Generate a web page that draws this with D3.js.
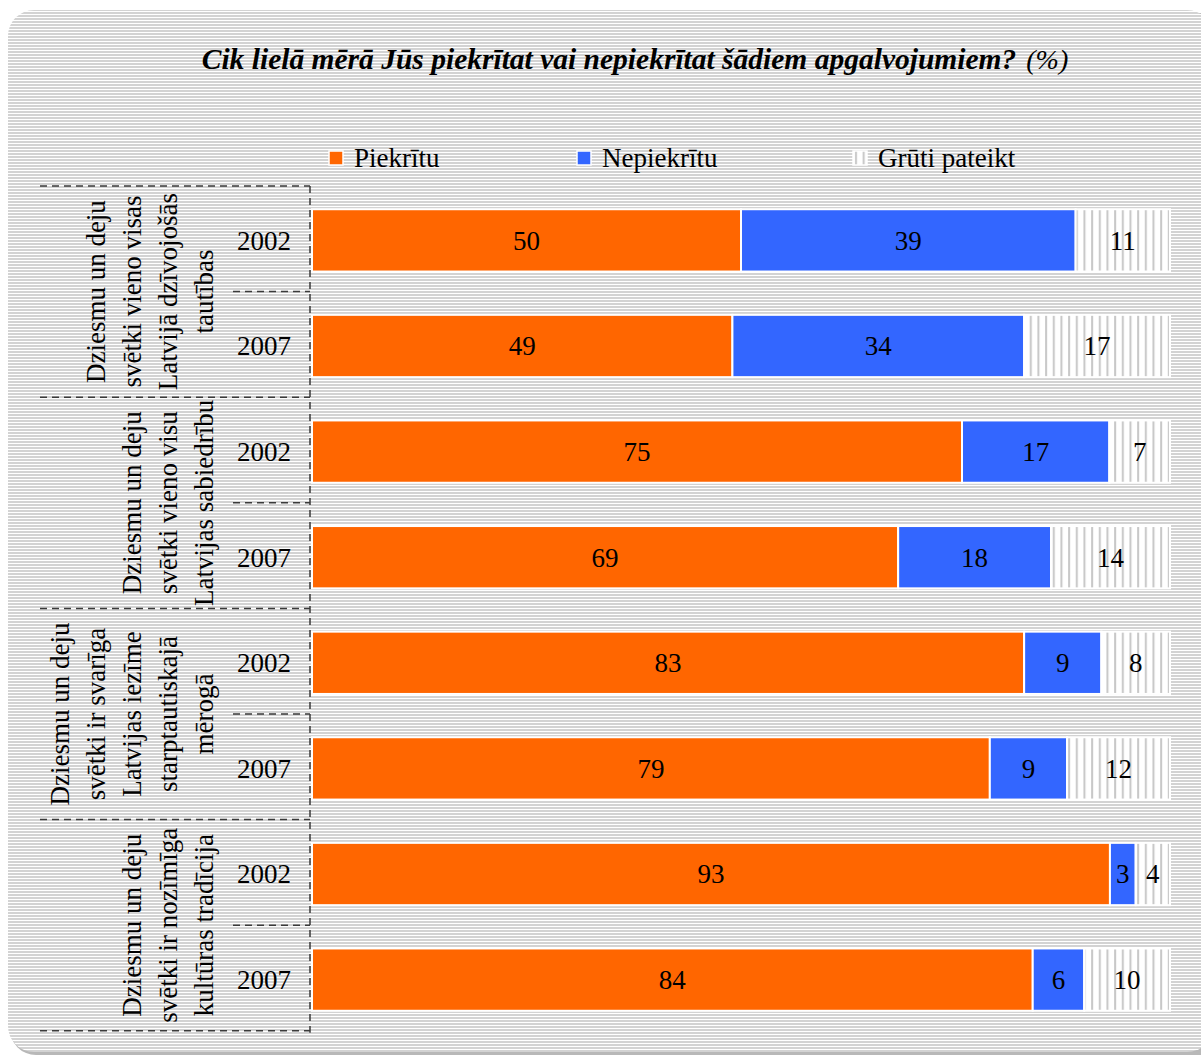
<!DOCTYPE html>
<html><head><meta charset="utf-8">
<script src="https://cdn.jsdelivr.net/npm/d3@7"></script>
<style>
html,body{margin:0;padding:0;background:#fff;}
svg{display:block;font-family:"Liberation Serif","Times New Roman",serif;}
</style></head>
<body>
<svg id="chart" width="1201" height="1057"></svg>
<script>
const title = "Cik lielā mērā Jūs piekrītat vai nepiekrītat šādiem apgalvojumiem?";
const titleUnit = "(%)";
const seriesNames = ["Piekrītu", "Nepiekrītu", "Grūti pateikt"];
const categoryLines = [
  ["Dziesmu un deju", "svētki vieno visas", "Latvijā dzīvojošās", "tautības"],
  ["Dziesmu un deju", "svētki vieno visu", "Latvijas sabiedrību"],
  ["Dziesmu un deju", "svētki ir svarīga", "Latvijas iezīme", "starptautiskajā", "mērogā"],
  ["Dziesmu un deju", "svētki ir nozīmīga", "kultūras tradīcija"]
];
const years = ["2002", "2007"];
const piekritu   = [50, 49, 75, 69, 83, 79, 93, 84];
const nepiekritu = [39, 34, 17, 18, 9, 9, 3, 6];
const gruti      = [11, 17, 7, 14, 8, 12, 4, 10];

const rows = [];
categoryLines.forEach((c, gi) => years.forEach((y, yi) => {
  const i = gi * years.length + yi;
  rows.push({id: i, group: gi, year: y, s0: piekritu[i], s1: nepiekritu[i], s2: gruti[i]});
}));

const FS = 27;
const svg = d3.select("#chart");
const defs = svg.append("defs");
const bg = defs.append("pattern").attr("id","bgStripes").attr("patternUnits","userSpaceOnUse")
  .attr("width",6).attr("height",3);
bg.append("rect").attr("width",6).attr("height",3).attr("fill","#ffffff");
bg.append("rect").attr("width",6).attr("height",2).attr("fill","#d3d3d3");
const vs = defs.append("pattern").attr("id","vStripes").attr("patternUnits","userSpaceOnUse")
  .attr("width",7.67).attr("height",10);
vs.append("rect").attr("width",7.67).attr("height",10).attr("fill","#ffffff");
vs.append("rect").attr("x",2).attr("width",2).attr("height",10).attr("fill","#c8c8c8");

const colors = ["#ff6600", "#3366ff", "url(#vStripes)"];

// panel
svg.append("rect").attr("x",10).attr("y",13).attr("width",1215).attr("height",1042)
  .attr("rx",26).attr("fill","#b8b8b8");
svg.append("rect").attr("x",8).attr("y",10).attr("width",1205).attr("height",1042)
  .attr("rx",26).attr("fill","url(#bgStripes)");

// title
const t = svg.append("text").attr("x", 635).attr("y", 69).attr("text-anchor","middle")
  .attr("font-size", 29.5).attr("font-style","italic");
t.append("tspan").attr("font-weight","bold").text(title);
t.append("tspan").attr("dx", 10).attr("font-size", 28).text(titleUnit);

// scales
const x = d3.scaleLinear().domain([0, 1]).range([312, 1170]);
const y = d3.scaleBand().domain(rows.map(d => d.id)).range([186, 1034])
  .paddingInner(0.41).paddingOuter(0.22);
const stack = d3.stack().keys(["s0","s1","s2"]).offset(d3.stackOffsetExpand);
const stacked = stack(rows);

const layer = svg.append("g").selectAll("g").data(stacked).join("g")
  .attr("fill", (d, i) => colors[i]);
layer.selectAll("rect").data(d => d).join("rect")
  .attr("x", d => x(d[0])).attr("width", d => x(d[1]) - x(d[0]))
  .attr("y", d => y(d.data.id)).attr("height", y.bandwidth())
  .attr("stroke","#ffffff").attr("stroke-width",2);
stacked.forEach((s) => {
  svg.append("g").selectAll("text").data(s).join("text")
    .attr("x", d => (x(d[0]) + x(d[1])) / 2)
    .attr("y", d => y(d.data.id) + y.bandwidth() / 2)
    .attr("dy","0.35em").attr("text-anchor","middle").attr("font-size",FS).attr("fill","#000")
    .text(d => d.data[s.key]);
});

// year labels
svg.append("g").selectAll("text").data(rows).join("text")
  .attr("x", 264).attr("y", d => y(d.id) + y.bandwidth() / 2).attr("dy","0.35em")
  .attr("text-anchor","middle").attr("font-size",FS).text(d => d.year);

// dashed structure
const step = y.step();
const top0 = 186;
const groupH = step * years.length;
const lines = svg.append("g").attr("stroke","#3a3a3a").attr("stroke-width",1.5)
  .attr("stroke-dasharray","7,5").attr("fill","none");
lines.append("line").attr("x1",310).attr("x2",310).attr("y1",top0).attr("y2",top0 + groupH * categoryLines.length + 2);
for (let g = 0; g <= categoryLines.length; g++) {
  lines.append("line").attr("x1",40).attr("x2",310).attr("y1",top0 + g*groupH).attr("y2",top0 + g*groupH);
}
for (let g = 0; g < categoryLines.length; g++) {
  lines.append("line").attr("x1",233).attr("x2",310).attr("y1",top0 + g*groupH + step).attr("y2",top0 + g*groupH + step);
}

// category labels (rotated)
categoryLines.forEach((ls, gi) => {
  const cy = top0 + gi * groupH + groupH / 2;
  const n = ls.length;
  ls.forEach((line, li) => {
    const cx = 204 - (n - 1 - li) * 36;
    svg.append("text").attr("transform", `translate(${cx},${cy}) rotate(-90)`)
      .attr("text-anchor","middle").attr("dy","0.35em").attr("font-size",FS).text(line);
  });
});

// legend
const legX = [329, 577, 853];
const lg = svg.append("g").selectAll("g").data(seriesNames).join("g")
  .attr("transform", (d, i) => `translate(${legX[i]},151)`);
lg.append("rect").attr("width",14).attr("height",14).attr("fill",(d,i)=>colors[i])
  .attr("stroke","#fff").attr("stroke-width",1.5);
lg.append("text").attr("x",25).attr("y",7).attr("dy","0.35em").attr("font-size",FS).text(d => d);
</script>
</body></html>
